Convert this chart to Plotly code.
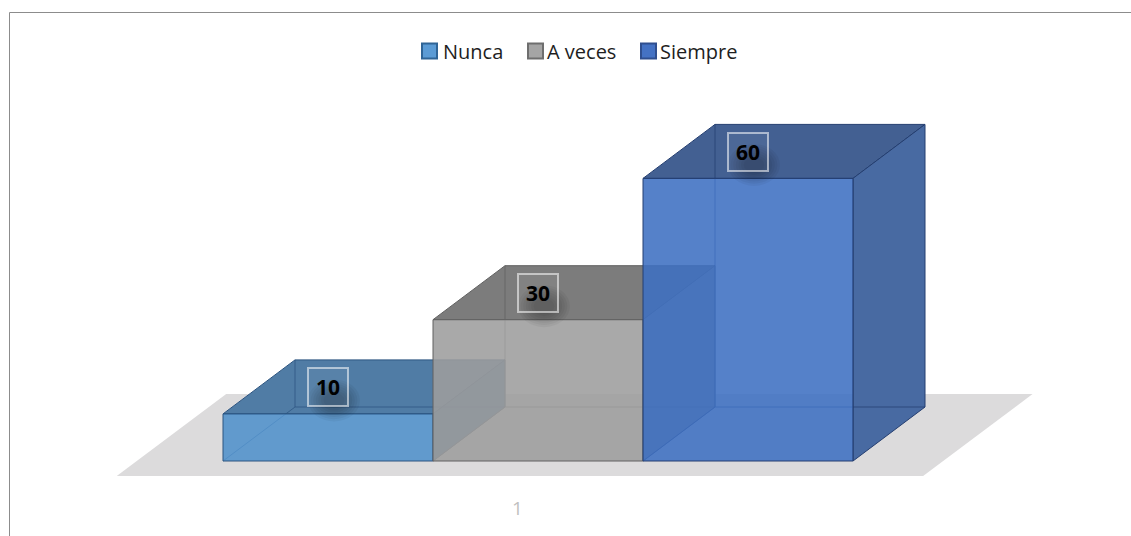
import plotly.graph_objects as go

# ---- data -------------------------------------------------------------
series_names = ["Nunca", "A veces", "Siempre"]
series_values = [10, 30, 60]
category_labels = ["1"]

# ---- styling ----------------------------------------------------------
front_rgb = [(80, 145, 203), (157, 157, 157), (62, 112, 193)]
top_rgb = [(80, 124, 165), (124, 124, 124), (67, 96, 146)]
side_rgb = [(70, 112, 155), (150, 150, 150), (72, 106, 162)]
edge_rgb = [(44, 84, 128), (96, 96, 96), (36, 62, 112)]
swatch_fill = ["#5B9BD5", "#A5A5A5", "#4472C4"]
swatch_edge = ["#2F6496", "#6E6E6E", "#2F4F8F"]
FLOOR_COLOR = "rgb(220,219,220)"
FONT = "Open Sans"
FRONT_ALPHA = 0.88

# ---- geometry of the oblique 3-D view -----------------------------------
W, H = 1131, 536
BAR_W_PX = 210          # width of one column in pixels
ORIGIN_X_PX = 223       # left edge of first column
ORIGIN_Y_PX = 461       # baseline (value 0) of front faces
PX_PER_VAL = 4.71       # vertical pixels per value unit
DEPTH_PX = (72, -54)    # screen offset of one column depth
DX = DEPTH_PX[0] / BAR_W_PX
DY = -DEPTH_PX[1] / PX_PER_VAL
FLOOR_U = (-0.41, 3.43)     # floor extent along the category axis
FLOOR_D = (-0.28, 1.24)     # floor extent in depth
LABEL_LIFT = 26.5           # label centre above the front top edge (px)


def rgba(c, a=1.0):
    return f"rgba({c[0]},{c[1]},{c[2]},{a})"


def proj(u, v, d):
    return u + d * DX, v + d * DY


fig = go.Figure()


def face(pts, fill, line, width=1.0):
    xs = [p[0] for p in pts] + [pts[0][0]]
    ys = [p[1] for p in pts] + [pts[0][1]]
    fig.add_trace(go.Scatter(
        x=xs, y=ys, mode="lines", fill="toself", fillcolor=fill,
        line=dict(color=line, width=width), hoverinfo="skip", showlegend=False))


def edges(segments, color, width=1.0):
    xs, ys = [], []
    for a, b in segments:
        xs += [a[0], b[0], None]
        ys += [a[1], b[1], None]
    fig.add_trace(go.Scatter(
        x=xs, y=ys, mode="lines", line=dict(color=color, width=width),
        hoverinfo="skip", showlegend=False))


# floor
u0, u1 = FLOOR_U
d0, d1 = FLOOR_D
face([proj(u0, 0, d0), proj(u1, 0, d0), proj(u1, 0, d1), proj(u0, 0, d1)],
     FLOOR_COLOR, "rgba(0,0,0,0)", 0)

# columns, drawn left to right so later fronts overlap earlier sides
for i, (name, val) in enumerate(zip(series_names, series_values)):
    a, b = i, i + 1
    fbl, fbr = proj(a, 0, 0), proj(b, 0, 0)
    ftl, ftr = proj(a, val, 0), proj(b, val, 0)
    bbl, bbr = proj(a, 0, 1), proj(b, 0, 1)
    btl, btr = proj(a, val, 1), proj(b, val, 1)
    ec = rgba(edge_rgb[i])

    face([ftl, ftr, btr, btl], rgba(top_rgb[i]), ec)          # top
    face([fbr, bbr, btr, ftr], rgba(side_rgb[i]), ec)         # right side
    edges([(bbl, btl), (bbl, bbr), (fbl, bbl)], rgba(edge_rgb[i], 0.75))  # hidden edges
    face([fbl, fbr, ftr, ftl], rgba(front_rgb[i], FRONT_ALPHA), ec)  # front

    # soft drop shadow behind the data label
    for k in range(7):
        hw = 26 - 2.6 * k
        hh = 21 - 2.2 * k
        fig.add_shape(type="circle", xref="x", yref="y",
                      xsizemode="pixel", ysizemode="pixel",
                      xanchor=a + 0.5, yanchor=val,
                      x0=6 - hw, x1=6 + hw,
                      y0=LABEL_LIFT - 13 - hh, y1=LABEL_LIFT - 13 + hh,
                      fillcolor="rgba(0,0,0,0.045)", line=dict(width=0),
                      layer="above")

    # data label
    fig.add_annotation(
        x=a + 0.5, y=val, xref="x", yref="y", text=str(val), showarrow=False,
        yshift=LABEL_LIFT, xanchor="center", yanchor="middle",
        width=36, height=34, borderpad=1,
        bordercolor="rgba(255,255,255,0.55)", borderwidth=2,
        bgcolor="rgba(255,255,255,0.05)",
        font=dict(family=FONT, size=21, color="#000000", weight="bold"))

# category label under the floor
fig.add_annotation(x=1.5 + FLOOR_D[0] * DX, y=FLOOR_D[0] * DY, xref="x", yref="y",
                   text=category_labels[0], showarrow=False, yshift=-32,
                   font=dict(family=FONT, size=19, color="#BFBFBF"))

# legend
swatch_x = [422, 528, 641]
text_x = [441, 545, 658]
LEG_Y = 51
SW = 15
for i, name in enumerate(series_names):
    fig.add_shape(type="rect", xref="paper", yref="paper",
                  x0=swatch_x[i] / W, x1=(swatch_x[i] + SW) / W,
                  y0=1 - (LEG_Y + SW / 2) / H, y1=1 - (LEG_Y - SW / 2) / H,
                  fillcolor=swatch_fill[i], line=dict(color=swatch_edge[i], width=2))
    fig.add_annotation(xref="paper", yref="paper", x=text_x[i] / W, y=1 - LEG_Y / H,
                       text=name, showarrow=False, xanchor="left", yanchor="middle",
                       font=dict(family=FONT, size=20, color="#1E1E1E"))

# chart area border
fig.add_shape(type="rect", xref="paper", yref="paper",
              x0=9.5 / W, x1=1.05, y0=-0.05, y1=1 - 12.5 / H,
              line=dict(color="#8C8C8C", width=1), fillcolor="rgba(0,0,0,0)")

fig.update_layout(
    width=W, height=H, margin=dict(l=0, r=0, t=0, b=0),
    paper_bgcolor="white", plot_bgcolor="white", showlegend=False,
    xaxis=dict(range=[-ORIGIN_X_PX / BAR_W_PX, (W - ORIGIN_X_PX) / BAR_W_PX],
               visible=False, fixedrange=True),
    yaxis=dict(range=[-(H - ORIGIN_Y_PX) / PX_PER_VAL, ORIGIN_Y_PX / PX_PER_VAL],
               visible=False, fixedrange=True),
)

fig.write_html("out.html")
